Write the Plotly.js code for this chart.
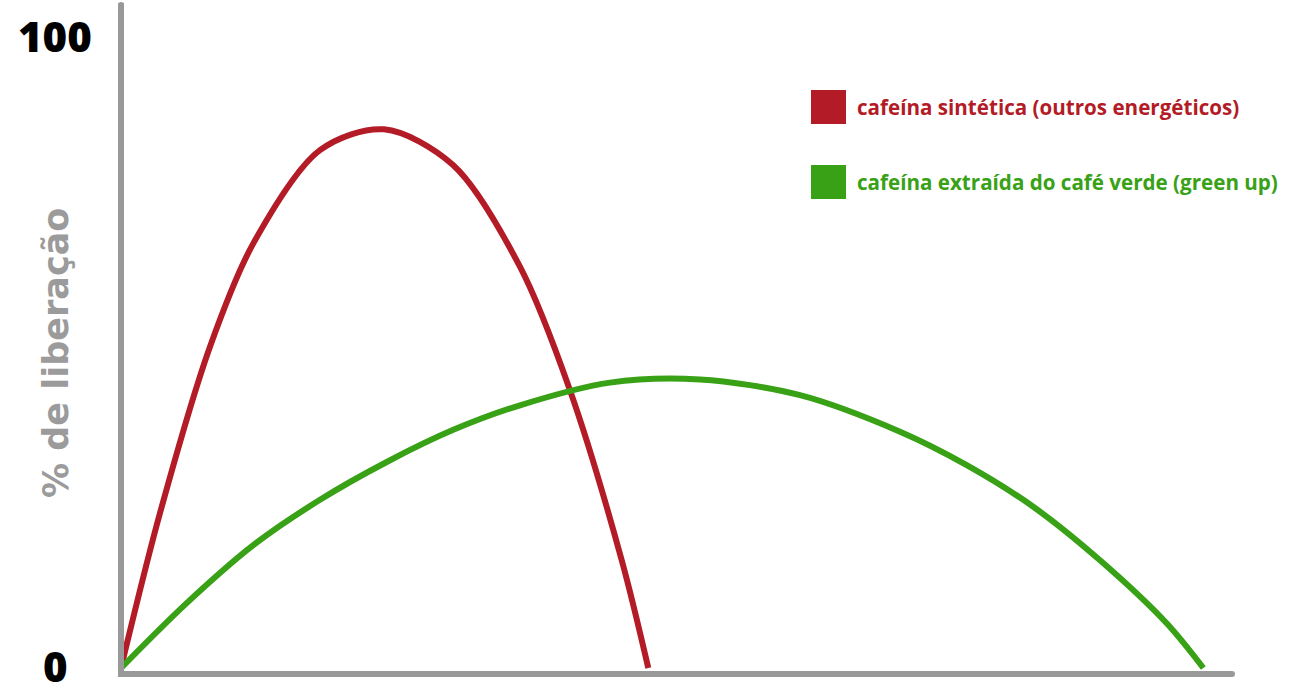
<!DOCTYPE html>
<html>
<head>
<meta charset="utf-8">
<script src="https://cdn.plot.ly/plotly-3.0.1.min.js"></script>
<style>
  html, body { margin: 0; padding: 0; background: #fff; }
  #chart { width: 1290px; height: 697px; }
</style>
</head>
<body>
<div id="chart"></div>
<script>
'use strict';

// series names
const seriesNames = ['cafeína sintética (outros energéticos)', 'cafeína extraída do café verde (green up)'];

// cafeína sintética
const sintX = [0, 3.51, 8.01, 11.91, 17.91, 23.67, 29.91, 35.91, 40.41, 45.07, 47.46];
const sintY = [0, 24.6, 51.0, 67.4, 82.2, 85.5, 79.8, 63.7, 44.1, 17.1, 0];

// cafeína do café verde
const verdeX = [0, 5.91, 11.91, 17.91, 23.92, 29.91, 35.91, 44.01, 52.11, 61.12, 70.12, 76.12, 82.11, 88.12, 94.12, 97.42];
const verdeY = [0, 10.3, 19.5, 26.7, 32.7, 37.8, 41.7, 45.3, 45.8, 43.3, 37.5, 32.2, 25.6, 17.1, 7.1, 0];

// y tick labels
const tickVals = [0, 100];
const tickText = ['0', '100'];

const yTitle = '% de liberação';

const RED = '#b31b26';
const GREEN = '#38a116';
const GRAY = '#999999';

// plot box in pixels
const W = 1290, H = 697;
const box = {l: 124, r: 1232, t: 3, b: 671};
const px = x => (x - box.l) / (box.r - box.l);
const py = y => (box.b - y) / (box.b - box.t);

let traces = [
    {x: sintX, y: sintY, name: seriesNames[0], type: 'scatter', mode: 'lines',
     line: {color: RED, width: 6, shape: 'spline', smoothing: 0.9}},
    {x: verdeX, y: verdeY, name: seriesNames[1], type: 'scatter', mode: 'lines',
     line: {color: GREEN, width: 6, shape: 'spline', smoothing: 0.9}}
];

let annotations = [];
let shapes = [];

// y tick labels, centred left of the axis
tickVals.forEach((v, i) => {
    annotations.push({
        x: px(55), xref: 'paper', y: v, yref: 'y', yshift: 3,
        text: tickText[i], showarrow: false, xanchor: 'center', yanchor: 'middle',
        font: {family: 'Open Sans', size: 42, color: '#000', weight: 800}
    });
});

annotations.push({
    x: px(56), xref: 'paper', y: py(353), yref: 'paper',
    text: yTitle, textangle: -90, showarrow: false, xanchor: 'center', yanchor: 'middle',
    font: {family: 'DejaVu Sans', size: 35, color: '#9b9b9b', weight: 700}
});

// legend (squares + labels)
const legendTop = [90, 165];
const legendColors = [RED, GREEN];
seriesNames.forEach((name, i) => {
    let top = legendTop[i];
    shapes.push({
        type: 'rect', xref: 'paper', yref: 'paper',
        x0: px(811), x1: px(846), y0: py(top + 34), y1: py(top),
        fillcolor: legendColors[i], line: {width: 0}
    });
    annotations.push({
        x: px(855), xref: 'paper', y: py(top + 17), yref: 'paper',
        text: name, showarrow: false, xanchor: 'left', yanchor: 'middle',
        font: {family: 'Open Sans', size: 20.6, color: legendColors[i], weight: 700}
    });
});

// rounded ends of the axis lines
shapes.push({type: 'circle', xref: 'paper', yref: 'paper', x0: px(118), x1: px(124), y0: py(8), y1: py(2),
             fillcolor: GRAY, line: {width: 0}, layer: 'below'});
shapes.push({type: 'circle', xref: 'paper', yref: 'paper', x0: px(1229), x1: px(1235), y0: py(677), y1: py(671),
             fillcolor: GRAY, line: {width: 0}, layer: 'below'});

const xUnit = 11.11, yUnit = 6.3; // px per data unit
let layout = {
    width: W, height: H,
    margin: {l: box.l, r: W - box.r, t: box.t, b: H - box.b, pad: 0},
    paper_bgcolor: '#fff', plot_bgcolor: '#fff',
    showlegend: false,
    xaxis: {
        range: [(box.l - 121) / xUnit, (box.r - 121) / xUnit],
        showgrid: false, zeroline: false, showticklabels: false, ticks: '',
        showline: true, linecolor: GRAY, linewidth: 6, fixedrange: true
    },
    yaxis: {
        range: [(668 - box.b) / yUnit, (668 - box.t) / yUnit],
        showgrid: false, zeroline: false, showticklabels: false, ticks: '',
        showline: true, linecolor: GRAY, linewidth: 6, fixedrange: true
    },
    annotations: annotations,
    shapes: shapes
};

Plotly.newPlot('chart', traces, layout, {displayModeBar: false, staticPlot: true});
</script>
</body>
</html>
